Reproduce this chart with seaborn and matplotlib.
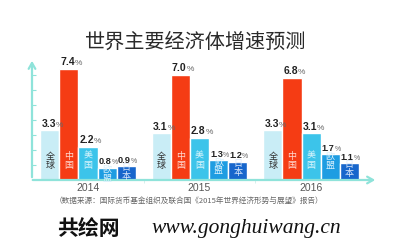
import matplotlib
matplotlib.use("Agg")
import matplotlib.pyplot as plt
import seaborn as sns
import pandas as pd

years = ["2014", "2015", "2016"]
regions = ["全球", "中国", "美国", "欧盟", "日本"]
world = [3.3, 3.1, 3.3]
china = [7.4, 7.0, 6.8]
usa = [2.2, 2.8, 3.1]
eu = [0.8, 1.3, 1.7]
japan = [0.9, 1.2, 1.1]
colors = ["#c9edf6", "#f53c14", "#3cc4ea", "#1e9de2", "#1766cc"]
text_colors = ["#333333", "#ffd9d0", "#d8f4fc", "#d8f0fc", "#dbe8fb"]

title = "世界主要经济体增速预测"
source = "（数据来源：国际货币基金组织及联合国《2015年世界经济形势与展望》报告）"

sns.set_theme(style="white")
plt.rcParams["font.family"] = ["Noto Sans CJK SC", "DejaVu Sans"]

series = [world, china, usa, eu, japan]
rows = []
for r, vals in zip(regions, series):
    for y, v in zip(years, vals):
        rows.append({"year": y, "region": r, "value": v})
df = pd.DataFrame(rows)

fig = plt.figure(figsize=(4, 2.5), dpi=100)
ax = fig.add_axes([0.08, 0.28, 0.865, 0.488])
sns.barplot(data=df, x="year", y="value", hue="region", hue_order=regions,
            palette=colors, saturation=1, width=0.855, gap=0, legend=False,
            ax=ax, errorbar=None)

ax.set_xlim(-0.502, 2.6)
ax.set_ylim(0, 8.13)
for s in ax.spines.values():
    s.set_visible(False)
axis_col = "#8fe3da"
ax.annotate("", xy=(0, 1.0), xytext=(0, 0), xycoords="axes fraction",
            arrowprops=dict(arrowstyle="->,head_length=0.35,head_width=0.2",
                            color=axis_col, lw=1.6), annotation_clip=False)
ax.annotate("", xy=(1.0, 0), xytext=(-0.006, 0), xycoords="axes fraction",
            arrowprops=dict(arrowstyle="->,head_length=0.35,head_width=0.2",
                            color=axis_col, lw=1.6), annotation_clip=False)
ax.set_yticks([1, 2, 3, 4, 5, 6, 7])
ax.tick_params(axis="y", direction="in", length=3, width=0.8, color=axis_col,
               left=True, labelleft=False)
ax.set_xticks([0, 1, 2])
ax.set_xticklabels(years, fontsize=7.5, color="#555555", family="Liberation Sans")
ax.tick_params(axis="x", length=0, pad=2.5)
ax.set_xticks([0.5, 1.5], minor=True)
ax.tick_params(axis="x", which="minor", direction="out", length=2, width=0.6,
               color="#cfeeea", bottom=True)
ax.set_xlabel("")
ax.set_ylabel("")

# bars: patches are added per hue level
patches = [p for p in ax.patches if p.get_height() > 0]
for i, p in enumerate(patches):
    hi = i // len(years)
    h = p.get_height()
    cx = p.get_x() + p.get_width() / 2
    small = h < 2
    fs_num = 6.6 if small else 7.5
    fs_pct = 5.0 if small else 6.0
    off = 0.04 if small else 0.055
    ax.text(cx + off, h + 0.12, f"{h:.1f}", ha="right", va="bottom",
            fontsize=fs_num, fontweight="bold", color="#222222", family="Liberation Sans")
    ax.text(cx + off, h + 0.12, "%", ha="left", va="bottom",
            fontsize=fs_pct, color="#666666", family="Liberation Sans")
    ty = min(1.27, h - 0.4)
    ax.text(cx, ty, regions[hi][0] + "\n" + regions[hi][1], ha="center", va="center",
            fontsize=6.5, color=text_colors[hi], linespacing=1.0)

fig.text(0.49, 0.832, title, ha="center", va="center", fontsize=14.5,
         color="#2a2a2a")
fig.text(0.473, 0.196, source, ha="center", va="center", fontsize=5.5,
         color="#666666")
fig.text(0.22, 0.085, "共绘网", ha="center", va="center", fontsize=15,
         fontweight="heavy", color="#111111")
fig.text(0.615, 0.085, "www.gonghuiwang.cn", ha="center", va="center",
         fontsize=15.5, style="italic", color="#111111", family="Liberation Serif")

fig.savefig("out.png", dpi=100, facecolor="white")
